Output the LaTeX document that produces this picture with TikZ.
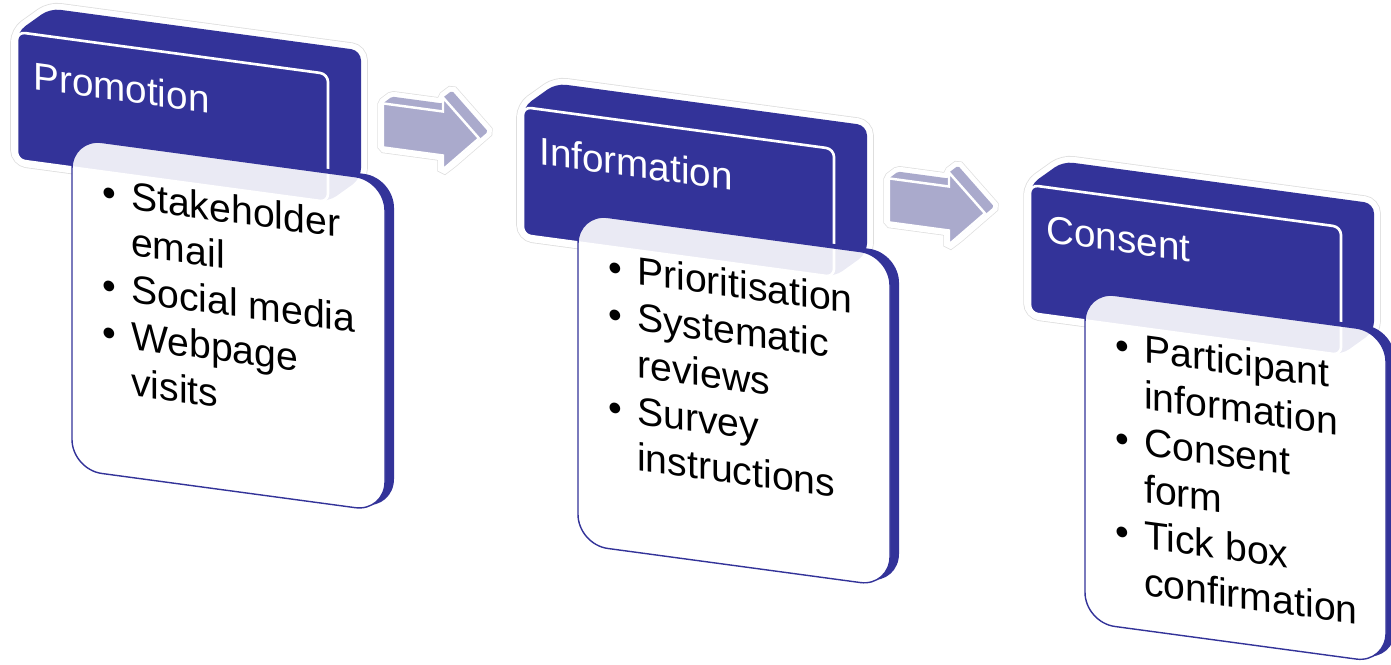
\documentclass[tikz,border=0pt]{standalone}
\usepackage{fontspec}
\setmainfont{Liberation Sans}
\definecolor{hdrblue}{HTML}{333399}
\definecolor{arrowlav}{HTML}{AAAACC}
\newcommand{\blist}[1]{\begin{tabular}[t]{@{}l@{\hspace{8.6pt}}l@{}}#1\end{tabular}}

\tikzset{
	halo/.style={draw=black!13, line width=7.7pt},
	haloin/.style={draw=white, line width=6.8pt},
	slabhull/.style={rounded corners=0.2cm, insert path={(0,0) -- (33,28) -- (344,28) -- (344,-100) -- (311,-128) -- (0,-128) -- cycle}},
	arrowhull/.style={rounded corners=1pt, insert path={++(0,-22) -- ++(0,44) -- ++(9,8) -- ++(51,0) -- ++(0,6) -- ++(9,8) -- ++(36,-36) -- ++(-36,-36) -- ++(-9,-8) -- ++(0,14) -- cycle}},
	arrowface/.style={insert path={++(0,22) -- ++(60,0) -- ++(0,14) -- ++(36,-36) -- ++(-36,-36) -- ++(0,14) -- ++(-60,0) -- cycle}},
	ttl/.style={text=white, inner sep=0pt, anchor=base west, font=\fontsize{22}{26}\selectfont},
	lst/.style={inner sep=0pt, anchor=base west, font=\fontsize{22.3}{26.5}\selectfont},
}

\begin{document}
\begin{tikzpicture}[x=0.02cm, y=0.02cm]
	\useasboundingbox (0,0) rectangle (1391,-664);
	% arrows between the cards
	\foreach \ox/\oy/\n in {17/-32/1, 523/-107/2}{
		\begin{scope}[shift={(\ox,\oy)}, yslant=-0.135]
			\coordinate (arr\n) at (366,-44);
			\path[halo, line width=6.5pt] (arr\n) [arrowhull];
			\path[haloin, line width=5.7pt] (arr\n) [arrowhull];
			\fill[arrowlav] (arr\n) [arrowhull];
			\filldraw[fill=arrowlav, draw=white, line width=1.4pt] (arr\n) [arrowface];
		\end{scope}
	}
	% the three cards
	\foreach \g/\ox/\oy/\w/\title/\items in {
		prom/17/-32/313/Promotion/{\textbullet & Stakeholder\\ & email\\ \textbullet & Social media\\ \textbullet & Webpage\\ & visits},
		info/523/-107/312/Information/{\textbullet & Prioritisation\\ \textbullet & Systematic\\ & reviews\\ \textbullet & Survey\\ & instructions},
		cons/1030/-185/301/Consent/{\textbullet & Participant\\ & information\\ \textbullet & Consent\\ & form\\ \textbullet & Tick box\\ & confirmation}}{
		\begin{scope}[shift={(\ox,\oy)}, yslant=-0.135, transform shape]
			\pgfmathsetmacro{\r}{55+\w}
			% header slab
			\path[halo, slabhull];
			\path[haloin, slabhull];
			\fill[hdrblue, slabhull];
			\filldraw[fill=hdrblue, draw=white, line width=1.5pt, rounded corners=0.16cm] (0,0) rectangle (311,-128);
			\node[ttl] (\g-t) at (16,-55) {\title};
			% list card, header shows faintly through it
			\fill[hdrblue, rounded corners=0.6cm] (64,-95) rectangle (\r+9,-426);
			\fill[white, rounded corners=0.6cm] (55,-99) rectangle (\r,-430);
			\begin{scope}
				\clip[rounded corners=0.6cm] (55,-99) rectangle (\r,-430);
				\fill[hdrblue, opacity=0.1, slabhull];
				\draw[white, line width=1.5pt, rounded corners=0.16cm] (0,0) rectangle (311,-128);
			\end{scope}
			\draw[hdrblue, line width=0.8pt, rounded corners=0.6cm] (55,-99) rectangle (\r,-430);
			\node[lst] (\g-l) at (85,-162) {\blist{\items}};
		\end{scope}
	}
\end{tikzpicture}
\end{document}
